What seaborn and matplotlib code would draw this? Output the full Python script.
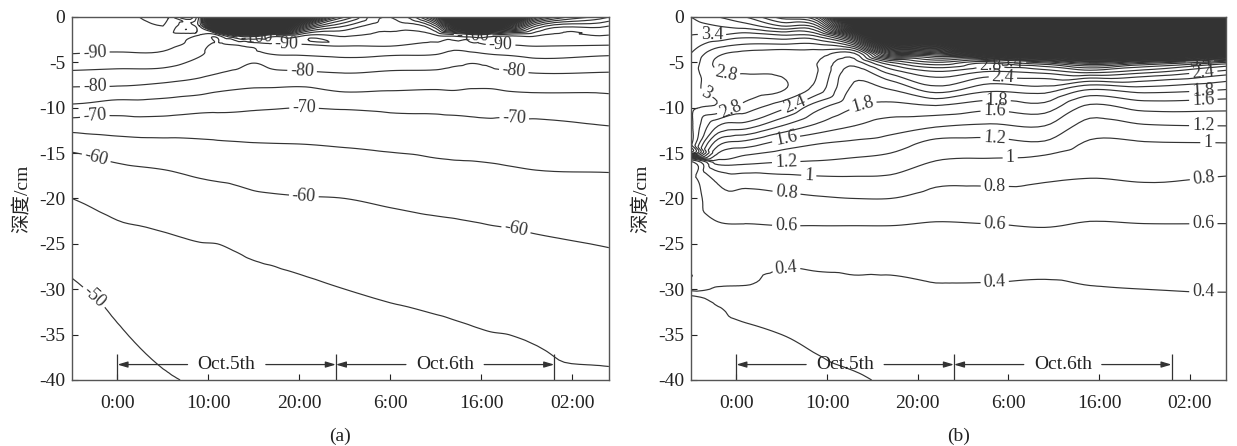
import numpy as np
import matplotlib
matplotlib.use("Agg")
import matplotlib.pyplot as plt
import matplotlib.tri as mtri
import seaborn as sns

# time axis in hours from 0:00 Oct.5th, depth in cm
hours_a = [-5, 0, 5, 9, 11, 13, 15, 17, 20, 25, 30, 35, 37, 39, 41, 43, 46, 54]
depth_a = [0, -1, -2, -3, -4, -5, -6, -8, -10, -12, -14, -17, -20, -25, -30, -35, -40]
# one depth profile per hour (panel a)
profiles_a = [
    [-93, -93, -92, -91, -90.1, -87.5, -84.7, -79.2, -73.8, -67.2, -61.5, -57.7, -55, -52.1, -49.3, -46.4, -43.5],
    [-94, -93.5, -93, -91.5, -89.7, -87, -84.2, -78.9, -72.1, -67.7, -63.1, -59, -56.5, -53.7, -51.6, -49.5, -47.4],
    [-96, -95, -93.5, -91.5, -89.5, -86.7, -83.9, -77.8, -72.2, -67.7, -63.8, -59.8, -57.5, -54.3, -52.8, -51.2, -49.6],
    [-97, -95, -90, -87.9, -85.8, -83.8, -81.8, -76.6, -71.3, -67.3, -64.2, -60.7, -58.3, -54.9, -53.2, -51.6, -50.3],
    [-300, -180, -90, -84.3, -83, -81.8, -80.5, -75.6, -71, -67.7, -64.4, -61, -58.6, -55, -53.4, -51.9, -50.5],
    [-600, -350, -110, -86, -83, -81.5, -79.6, -75, -70.8, -67.8, -64.6, -61.2, -59, -55.4, -53.7, -52.2, -50.8],
    [-700, -400, -115, -88, -84, -80.2, -78.8, -74.6, -70.5, -67.8, -64.8, -61.6, -59.4, -55.8, -54, -52.6, -51.2],
    [-500, -250, -102, -89.5, -85.5, -81.5, -79.5, -74.5, -70.3, -67.6, -64.9, -61.8, -59.6, -56, -54.2, -52.8, -51.4],
    [-220, -140, -98, -90, -85.8, -82.5, -79.8, -74.2, -70, -67.5, -65, -61.9, -59.8, -56.3, -54.5, -53.2, -51.8],
    [-120, -105, -96, -91, -86.5, -83.5, -80.5, -75.7, -70.4, -67.1, -65.4, -62.3, -60, -56.8, -55, -53.7, -52.4],
    [-100, -97, -94, -91, -86, -82.5, -79.8, -75.3, -70.9, -68.2, -66, -62.8, -60.7, -57.5, -55.5, -54, -52.8],
    [-140, -110, -95, -89, -85.5, -82, -79.6, -75, -71, -68.5, -66.5, -63.7, -61.4, -58, -56, -54.3, -53.1],
    [-300, -160, -98, -88, -84, -81, -79, -75.2, -71.2, -68.6, -66.7, -63.9, -61.6, -58.2, -56.2, -54.5, -53.3],
    [-400, -220, -102, -89, -84.5, -80.3, -78.8, -74.8, -71.4, -68.8, -66.8, -64, -61.8, -58.5, -56.5, -54.7, -53.5],
    [-350, -200, -100, -90.5, -85.5, -81, -79.3, -74.8, -71.6, -69, -67, -64.2, -62, -58.8, -56.8, -54.9, -53.7],
    [-250, -150, -97, -90.5, -86, -82.2, -79.8, -75.4, -71.4, -69.1, -67.2, -64.5, -62.2, -59, -57, -55.0, -53.9],
    [-140, -110, -96, -91, -87, -83.5, -80.5, -75.8, -71.4, -69.3, -67.5, -64.9, -62.6, -59.4, -57.4, -55.3, -54.3],
    [-110, -100, -95, -90.5, -86, -82.6, -80.2, -75.8, -72.8, -70, -67.9, -65.1, -63.3, -60.2, -58.3, -56.2, -54.5],
]

hours_b = [-5, -2, 1, 5, 9, 13, 17, 22, 28, 34, 39, 45, 54]
depth_b = [0, -1, -2, -3, -4, -5, -6, -8, -10, -12, -14, -15, -16, -18, -20, -23, -26, -30, -31, -35, -40]
# one depth profile per hour (panel b)
profiles_b = [
    [3.6, 3.5, 3.4, 3.3, 3.2, 3.15, 3.1, 3.05, 3.05, 3.05, 3.05, 3.05, 0.55, 0.52, 0.5, 0.5, 0.5, 0.45, 0.15, 0.12, 0.1],
    [3.8, 3.6, 3.4, 3.1, 2.85, 2.75, 2.8, 2.92, 2.95, 2.4, 1.85, 1.6, 1.3, 0.84, 0.74, 0.58, 0.47, 0.38, 0.25, 0.15, 0.1],
    [4.0, 3.7, 3.3, 3.0, 2.75, 2.7, 2.78, 2.9, 2.7, 2.3, 1.7, 1.45, 1.25, 0.88, 0.73, 0.59, 0.47, 0.38, 0.3, 0.17, 0.1],
    [4.5, 4.0, 3.4, 3.0, 2.7, 2.65, 2.76, 2.82, 2.45, 2.0, 1.5, 1.35, 1.2, 0.92, 0.75, 0.6, 0.44, 0.36, 0.34, 0.2, 0.12],
    [5.0, 4.2, 3.5, 3.0, 2.7, 2.6, 2.6, 2.5, 2.05, 1.75, 1.4, 1.3, 1.18, 0.95, 0.78, 0.6, 0.45, 0.37, 0.36, 0.25, 0.15],
    [12, 8, 5, 3.5, 2.6, 2.3, 2.1, 1.95, 1.8, 1.6, 1.35, 1.25, 1.15, 0.96, 0.8, 0.6, 0.45, 0.38, 0.37, 0.3, 0.18],
    [30, 20, 12, 7, 4.5, 3.0, 2.5, 2.0, 1.72, 1.5, 1.3, 1.2, 1.12, 0.95, 0.8, 0.6, 0.45, 0.38, 0.37, 0.3, 0.22],
    [30, 20, 12, 7, 4.5, 3.4, 2.8, 2.3, 1.75, 1.42, 1.13, 1.05, 0.99, 0.84, 0.74, 0.58, 0.47, 0.39, 0.38, 0.33, 0.25],
    [30, 25, 18, 12, 6, 3.1, 2.6, 2.05, 1.65, 1.37, 1.12, 1.04, 0.97, 0.83, 0.75, 0.59, 0.46, 0.39, 0.38, 0.34, 0.28],
    [30, 25, 18, 12, 7, 3.5, 2.7, 2.1, 1.7, 1.4, 1.16, 1.02, 0.95, 0.81, 0.75, 0.61, 0.46, 0.385, 0.375, 0.34, 0.3],
    [30, 25, 20, 14, 8, 4, 2.9, 1.8, 1.34, 1.12, 0.97, 0.92, 0.88, 0.79, 0.7, 0.58, 0.46, 0.395, 0.385, 0.35, 0.31],
    [30, 25, 20, 14, 8, 3.6, 2.7, 1.9, 1.46, 1.18, 0.98, 0.93, 0.89, 0.81, 0.72, 0.59, 0.46, 0.4, 0.39, 0.36, 0.32],
    [30, 25, 18, 12, 6, 3.0, 2.35, 1.8, 1.45, 1.2, 0.99, 0.94, 0.88, 0.78, 0.72, 0.59, 0.46, 0.405, 0.39, 0.36, 0.33],
]

levels_a = np.arange(-800, -45, 5)
levels_b = np.round(np.arange(0.2, 40, 0.2), 1)
label_levels_a = [-100, -90, -80, -70, -60, -50]
label_levels_b = [0.4, 0.6, 0.8, 1.0, 1.2, 1.6, 1.8, 2.4, 2.8, 3.0, 3.4]

label_pos_a = [(-2.5, -3.9), (-2.5, -7.5), (-2.5, -10.9), (-2.3, -15.4), (-3, -31.3),
               (15.3, -2.1), (18.6, -2.9), (20.3, -5.7), (20.5, -10.2), (20.5, -19.4),
               (39.1, -1.8), (42.1, -3.0), (43.6, -5.5), (43.6, -11.2), (43.8, -23.4)]
label_pos_b = [(5.5, -27.7), (28.5, -29.4), (51.5, -30.4),
               (5.5, -22.9), (28.5, -22.6), (51.5, -21.7),
               (5.5, -19.7), (28.5, -18.6), (51.5, -17.3),
               (8, -17.3), (30.2, -15.3), (52, -13.8),
               (5.5, -16), (28.5, -13.1), (51.5, -12),
               (5.5, -13.5), (28.5, -10.3), (51.5, -9),
               (14, -9.9), (28.7, -9), (51.5, -8),
               (6.5, -9.9), (29.4, -6.6), (51.5, -6.1),
               (-1.1, -5.9), (-0.5, -10.5), (28, -5.5),
               (-3.6, -8.9),
               (-2.7, -2.5), (30.4, -4.8), (51.1, -4.4)]

tick_hours = [0, 10, 20, 30, 40, 50]
tick_labels = ["0:00", "10:00", "20:00", "6:00", "16:00", "02:00"]
depth_ticks = [0, -5, -10, -15, -20, -25, -30, -35, -40]
days = [(0, 24, "Oct.5th"), (24, 48, "Oct.6th")]

sns.set_theme(style="ticks")
plt.rcParams['font.family'] = ['Liberation Serif', 'Noto Sans CJK SC']
plt.rcParams['axes.unicode_minus'] = False
plt.rcParams['contour.negative_linestyle'] = 'solid'

LINE = '#333333'


def draw_panel(ax, hours, depth, profiles, levels, lab_levels, lab_pos, tag, warp):
    # isolines are traced on a log-warped copy of the field (monotone, so the
    # same lines), which keeps the cubic smoothing from overshooting at the surface
    z = warp(np.array(profiles).T).ravel()
    xx, yy = np.meshgrid(hours, depth)
    tri = mtri.Triangulation(xx.ravel(), yy.ravel())
    interp = mtri.CubicTriInterpolator(tri, z, kind='geom')
    tri_f, z_f = mtri.UniformTriRefiner(tri).refine_field(z, triinterpolator=interp, subdiv=3)
    is_lab = np.array([np.any(np.isclose(l, lab_levels)) for l in levels])
    ax.tricontour(tri_f, z_f, levels=warp(levels[~is_lab]), colors=LINE, linewidths=0.85)
    cs = ax.tricontour(tri_f, z_f, levels=warp(levels[is_lab]), colors=LINE, linewidths=0.85)
    fmt = {w: '%g' % v for w, v in zip(cs.levels, levels[is_lab])}
    ax.clabel(cs, fmt=fmt, fontsize=13, inline=True, inline_spacing=3, manual=lab_pos)

    # day brackets near the bottom
    y_arr = -38.3
    gap = 4.3
    for x0, x1, txt in days:
        xm = (x0 + x1) / 2
        for tip, tail in [(x0, xm - gap), (x1, xm + gap)]:
            ax.annotate('', xy=(tip, y_arr), xytext=(tail, y_arr),
                        arrowprops=dict(arrowstyle='-|>,head_length=0.5,head_width=0.15',
                                        color=LINE, lw=0.9, shrinkA=0, shrinkB=0))
        ax.text(xm, y_arr, txt, ha='center', va='center', fontsize=14, color='#222222')
    ax.vlines([d[0] for d in days] + [days[-1][1]], -40, -37.1, colors=LINE, lw=0.9)

    ax.set_xlim(-5, 54)
    ax.set_ylim(-40, 0)
    ax.set_xticks(tick_hours)
    ax.set_xticklabels(tick_labels)
    ax.set_yticks(depth_ticks)
    ax.tick_params(direction='in', length=4, width=0.8, labelsize=14,
                   colors='#222222', top=False, right=False)
    ax.tick_params(axis='x', pad=11)
    ax.tick_params(axis='y', pad=5)
    for s in ax.spines.values():
        s.set_color('#555555')
        s.set_linewidth(1.0)
    ax.set_ylabel('深度/cm', fontsize=14, color='#222222', labelpad=6)
    ax.set_xlabel('')
    box = ax.get_position()
    fig.text(box.x0 + box.width / 2, 0.022, tag, ha='center', va='center',
             fontsize=14, color='#222222')


fig = plt.figure(figsize=(12.37, 4.46), dpi=100)
ax_a = fig.add_axes([0.0582, 0.148, 0.434, 0.814])
ax_b = fig.add_axes([0.5586, 0.148, 0.4325, 0.814])

draw_panel(ax_a, hours_a, depth_a, profiles_a, levels_a, label_levels_a, label_pos_a, '(a)',
           lambda v: -np.log(-np.asarray(v, dtype=float)))
draw_panel(ax_b, hours_b, depth_b, profiles_b, levels_b, label_levels_b, label_pos_b, '(b)',
           lambda v: np.log(np.asarray(v, dtype=float)))

fig.savefig('out.png', dpi=100, facecolor='white')
